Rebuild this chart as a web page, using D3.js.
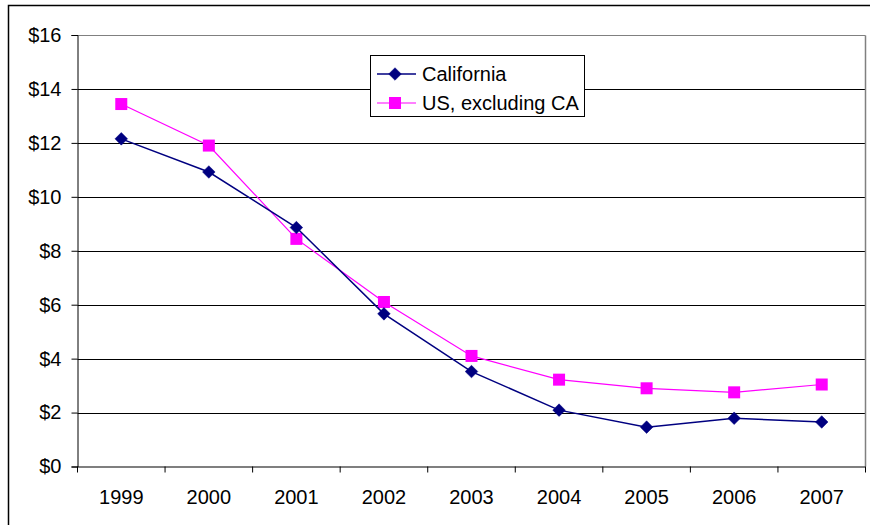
<!DOCTYPE html>
<html>
<head>
<meta charset="utf-8">
<script src="https://cdn.jsdelivr.net/npm/d3@7"></script>
<style>
  html, body { margin: 0; padding: 0; background: #fff; }
  svg { display: block; }
  text { font-family: "Liberation Sans", Arial, sans-serif; fill: #000; }
</style>
</head>
<body>
<svg id="chart" width="870" height="525"></svg>
<script>
// Chart data
const years = ["1999", "2000", "2001", "2002", "2003", "2004", "2005", "2006", "2007"];
const california = [12.15, 10.92, 8.86, 5.66, 3.52, 2.09, 1.46, 1.79, 1.65];
const usExclCA = [13.44, 11.9, 8.44, 6.1, 4.1, 3.22, 2.9, 2.75, 3.04];
const yTicks = [0, 2, 4, 6, 8, 10, 12, 14, 16];
const seriesNames = ["California", "US, excluding CA"];

const svg = d3.select("#chart");
const W = 870, H = 525;
const FONT = 20;

// Outer chart frame
svg.append("rect")
  .attr("x", 8.5).attr("y", 5.5)
  .attr("width", W + 10).attr("height", H + 10)
  .attr("fill", "#fff").attr("stroke", "#000").attr("stroke-width", 1.5);

const plot = { left: 77.5, right: 865.5, top: 35, bottom: 466.5 };

const x = d3.scaleBand().domain(years).range([plot.left, plot.right]).padding(0);
const y = d3.scaleLinear().domain([0, 16]).range([plot.bottom, plot.top]);

// Horizontal gridlines
svg.append("g").selectAll("line")
  .data(yTicks.filter(d => d > 0))
  .join("line")
  .attr("x1", plot.left).attr("x2", plot.right)
  .attr("y1", d => Math.round(y(d)) + 0.5).attr("y2", d => Math.round(y(d)) + 0.5)
  .attr("stroke", d => d === 16 ? "#808080" : "#000").attr("stroke-width", 1);

// Right edge of the plot area
svg.append("line")
  .attr("x1", plot.right).attr("x2", plot.right)
  .attr("y1", Math.round(y(16)) + 0.5).attr("y2", plot.bottom)
  .attr("stroke", "#808080").attr("stroke-width", 1.5);

// Y axis
const yAxis = svg.append("g")
  .attr("transform", `translate(${plot.left},0)`)
  .call(d3.axisLeft(y).tickValues(yTicks).tickSize(6).tickPadding(10)
    .tickFormat(d => "$" + d));
yAxis.attr("font-size", FONT).attr("font-family", "Liberation Sans, Arial, sans-serif");
yAxis.select(".domain").attr("stroke", "#000").attr("stroke-width", 1);
yAxis.selectAll(".tick line").attr("stroke", "#000");
yAxis.selectAll(".tick text").attr("font-size", FONT).attr("fill", "#000");

// X axis with ticks on category boundaries
const xAxisG = svg.append("g").attr("transform", `translate(0,${plot.bottom})`);
xAxisG.append("line")
  .attr("x1", plot.left).attr("x2", plot.right)
  .attr("y1", 0.5).attr("y2", 0.5)
  .attr("stroke", "#000").attr("stroke-width", 1.2);
const boundaries = years.map(d => x(d)).concat([x(years[years.length - 1]) + x.bandwidth()]);
xAxisG.selectAll("line.tk")
  .data(boundaries)
  .join("line").attr("class", "tk")
  .attr("x1", d => d).attr("x2", d => d)
  .attr("y1", 0).attr("y2", 6)
  .attr("stroke", "#000").attr("stroke-width", 1);
xAxisG.selectAll("text")
  .data(years)
  .join("text")
  .attr("x", d => x(d) + x.bandwidth() / 2)
  .attr("y", 37.5)
  .attr("text-anchor", "middle")
  .attr("font-size", FONT)
  .text(d => d);

const cx = d => x(d) + x.bandwidth() / 2;

function diamond(g, px, py, r, color) {
  g.append("path")
    .attr("d", `M${px},${py - r}L${px + r},${py}L${px},${py + r}L${px - r},${py}Z`)
    .attr("fill", color).attr("stroke", color).attr("stroke-width", 0.5);
}
function square(g, px, py, s, color) {
  g.append("rect")
    .attr("x", px - s / 2).attr("y", py - s / 2)
    .attr("width", s).attr("height", s)
    .attr("fill", color);
}

const line = d3.line().x((d, i) => cx(years[i])).y(d => y(d));

// US, excluding CA series
const gUS = svg.append("g");
gUS.append("path").datum(usExclCA)
  .attr("d", line).attr("fill", "none")
  .attr("stroke", "#FF00FF").attr("stroke-width", 1.2);
usExclCA.forEach((v, i) => square(gUS, cx(years[i]), y(v), 12, "#FF00FF"));

// California series
const gCA = svg.append("g");
gCA.append("path").datum(california)
  .attr("d", line).attr("fill", "none")
  .attr("stroke", "#000080").attr("stroke-width", 1.5);
california.forEach((v, i) => diamond(gCA, cx(years[i]), y(v), 6.3, "#000080"));

// Legend
const lg = svg.append("g");
lg.append("rect")
  .attr("x", 370.5).attr("y", 55.5).attr("width", 214).attr("height", 61)
  .attr("fill", "#fff").attr("stroke", "#000").attr("stroke-width", 1);
const rows = [74, 103];
lg.append("line").attr("x1", 377).attr("x2", 416).attr("y1", rows[0]).attr("y2", rows[0])
  .attr("stroke", "#000080").attr("stroke-width", 1.5);
diamond(lg, 395, rows[0], 6.3, "#000080");
lg.append("line").attr("x1", 377).attr("x2", 416).attr("y1", rows[1]).attr("y2", rows[1])
  .attr("stroke", "#FF00FF").attr("stroke-width", 1.2);
square(lg, 395, rows[1], 12, "#FF00FF");
lg.selectAll("text.lbl")
  .data(seriesNames)
  .join("text").attr("class", "lbl")
  .attr("x", 422)
  .attr("y", (d, i) => rows[i] + 7)
  .attr("font-size", FONT)
  .text(d => d);
</script>
</body>
</html>
